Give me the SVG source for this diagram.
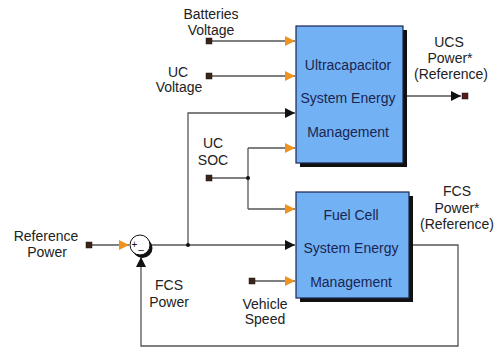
<svg xmlns="http://www.w3.org/2000/svg" width="496" height="351" viewBox="0 0 496 351">
<style>
.t{font-family:"Liberation Sans",Arial,sans-serif;font-size:14px;fill:#222;text-anchor:middle}
.b{font-family:"Liberation Sans",Arial,sans-serif;font-size:14px;fill:#1a2550;text-anchor:middle}
.w{stroke:#555;stroke-width:1.3;fill:none}
.term{fill:#3a2418;stroke:#1a1a1a;stroke-width:0.5}
.blk{fill:#73b1f5;stroke:#1a2550;stroke-width:1.2}
.sh{fill:#111}
</style>
<defs>
<marker id="ao" viewBox="0 0 10 10" refX="10" refY="5" markerWidth="10" markerHeight="10" markerUnits="userSpaceOnUse" orient="auto"><path d="M0,0L10,5L0,10Z" fill="#f0921e"/></marker>
<marker id="ab" viewBox="0 0 10 10" refX="10" refY="5" markerWidth="10" markerHeight="10" markerUnits="userSpaceOnUse" orient="auto"><path d="M0,0L10,5L0,10Z" fill="#111"/></marker>
</defs>
<rect width="496" height="351" fill="#fff"/>
<g id="connectors">
<path class="w" d="M212,41H295" marker-end="url(#ao)"/>
<path class="w" d="M212,76H295" marker-end="url(#ao)"/>
<path class="w" d="M212,178H248"/>
<path class="w" d="M248,148V209"/>
<path class="w" d="M248,148H295" marker-end="url(#ao)"/>
<path class="w" d="M248,209H295" marker-end="url(#ao)"/>
<path class="w" d="M255,281H295" marker-end="url(#ao)"/>
<path class="w" d="M92,245H129" marker-end="url(#ao)"/>
<path class="w" d="M151,245H295" marker-end="url(#ab)"/>
<path class="w" d="M188,245V113H295" marker-end="url(#ab)"/>
<path class="w" d="M403,96H461" marker-end="url(#ab)"/>
<path class="w" d="M409,245H458V346H141V257" marker-end="url(#ab)"/>
<circle cx="188" cy="245" r="2" fill="#111"/>
<circle cx="248" cy="178" r="2" fill="#111"/>
</g>
<g id="uc-block">
<rect class="sh" x="300" y="30" width="107" height="137"/>
<rect class="blk" x="296" y="26" width="107" height="137"/>
<text class="b" x="348" y="70">Ultracapacitor</text>
<text class="b" x="348" y="103">System Energy</text>
<text class="b" x="348" y="137">Management</text>
</g>
<g id="fc-block">
<rect class="sh" x="300" y="196" width="113" height="106"/>
<rect class="blk" x="296" y="192" width="113" height="106"/>
<text class="b" x="351" y="220">Fuel Cell</text>
<text class="b" x="351" y="253">System Energy</text>
<text class="b" x="351" y="287">Management</text>
</g>
<g id="sum">
<circle cx="142.5" cy="248" r="10" fill="#111"/>
<circle cx="140" cy="245" r="10" fill="#fff" stroke="#111" stroke-width="1"/>
<text x="134.5" y="248" style="font-family:'Liberation Sans',Arial,sans-serif;font-size:10px;fill:#111;text-anchor:middle">+</text>
<text x="141" y="253" style="font-family:'Liberation Sans',Arial,sans-serif;font-size:10px;fill:#111;text-anchor:middle">–</text>
</g>
<g id="batteries-voltage">
<rect class="term" x="206" y="38" width="6" height="6"/>
<text class="t" x="211" y="19">Batteries</text>
<text class="t" x="211" y="35">Voltage</text>
</g>
<g id="uc-voltage">
<rect class="term" x="206" y="73" width="6" height="6"/>
<text class="t" x="178" y="77">UC</text>
<text class="t" x="179" y="92">Voltage</text>
</g>
<g id="uc-soc">
<rect class="term" x="206" y="175" width="6" height="6"/>
<text class="t" x="213" y="148">UC</text>
<text class="t" x="213" y="165">SOC</text>
</g>
<g id="reference-power">
<rect class="term" x="86" y="242" width="6" height="6"/>
<text class="t" x="46" y="241">Reference</text>
<text class="t" x="47" y="257">Power</text>
</g>
<g id="fcs-power">
<text class="t" x="169" y="290">FCS</text>
<text class="t" x="169" y="307">Power</text>
</g>
<g id="vehicle-speed">
<rect class="term" x="249" y="278" width="6" height="6"/>
<text class="t" x="265" y="309">Vehicle</text>
<text class="t" x="265" y="324">Speed</text>
</g>
<g id="ucs-power-ref">
<rect class="term" x="462" y="93" width="6" height="6" style="fill:#5a1a1a"/>
<text class="t" x="449" y="47">UCS</text>
<text class="t" x="450" y="63">Power*</text>
<text class="t" x="451" y="79">(Reference)</text>
</g>
<g id="fcs-power-ref">
<text class="t" x="457" y="196">FCS</text>
<text class="t" x="457" y="213">Power*</text>
<text class="t" x="457" y="229">(Reference)</text>
</g>
</svg>
